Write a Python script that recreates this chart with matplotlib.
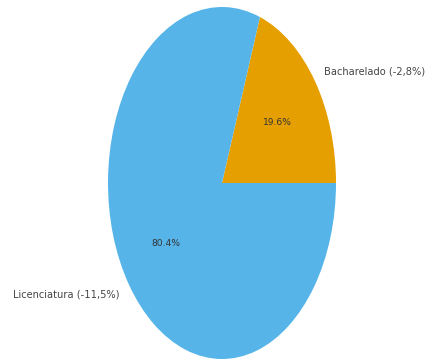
import matplotlib.pyplot as plt

labels = ['Bacharelado (-2,8%)', 'Licenciatura (-11,5%)']
shares = [19.6, 80.4]
colors = ['#E69F00', '#56B4E9']

fig = plt.figure(figsize=(4.26, 3.59), dpi=100)
ax = fig.add_axes([0, 0, 1, 1])

wedges, texts, autotexts = ax.pie(
    shares, labels=labels, colors=colors, autopct='%1.1f%%',
    startangle=0, counterclock=True,
    textprops={'fontsize': 7.1, 'color': '#444444', 'family': 'DejaVu Sans'},
)
for t in autotexts:
    t.set_fontsize(6.6)
    t.set_color('#333333')

# stretched oval layout
ax.set_aspect('auto')
ax.set_xlim(-222 / 114, 204 / 114)
ax.set_ylim(-1.0, 183 / 176)
ax.axis('off')

fig.savefig('out.png', dpi=100)
